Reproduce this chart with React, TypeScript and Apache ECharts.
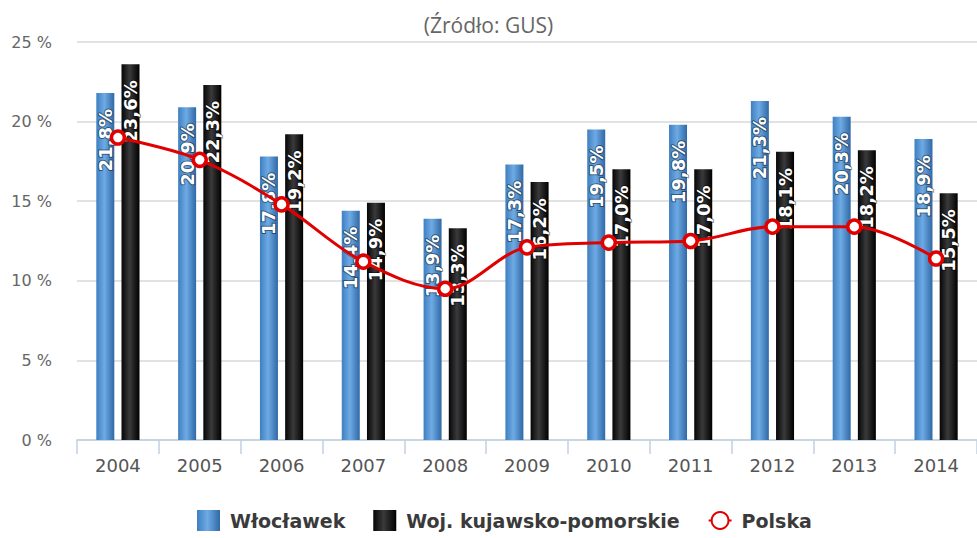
import React, { useEffect, useRef } from "react";
import * as echarts from "echarts";

const years = ["2004", "2005", "2006", "2007", "2008", "2009", "2010", "2011", "2012", "2013", "2014"];
const wloclawek = [21.8, 20.9, 17.8, 14.4, 13.9, 17.3, 19.5, 19.8, 21.3, 20.3, 18.9];
const kujawsko = [23.6, 22.3, 19.2, 14.9, 13.3, 16.2, 17.0, 17.0, 18.1, 18.2, 15.5];
const polska = [19.0, 17.6, 14.8, 11.2, 9.5, 12.1, 12.4, 12.5, 13.4, 13.4, 11.4];

const FONT = "DejaVu Sans";

const fmt = (v: number) => v.toFixed(1).replace(".", ",") + "%";

const barLabel = {
  show: true,
  position: "insideTop" as const,
  distance: 16,
  rotate: 90,
  align: "right" as const,
  verticalAlign: "middle" as const,
  color: "#fff",
  fontFamily: FONT,
  fontSize: 18,
  fontWeight: "bold" as const,
  textBorderColor: "rgba(0,0,0,0.45)",
  textBorderWidth: 2,
  formatter: (p: any) => fmt(p.value),
};

export default function App() {
  const ref = useRef<HTMLDivElement>(null);
  useEffect(() => {
    const chart = echarts.init(ref.current!, null, { renderer: "svg" });
    chart.setOption({
      animation: false,
      backgroundColor: "#fff",
      title: {
        text: "(Źródło: GUS)",
        left: "center",
        top: 9,
        textStyle: { fontFamily: "Open Sans", fontSize: 21, fontWeight: "normal", color: "#666" },
      },
      legend: {
        bottom: 2,
        left: 192,
        itemWidth: 23,
        itemHeight: 21,
        itemGap: 28,
        textStyle: { fontFamily: FONT, fontSize: 19, fontWeight: "bold", color: "#3a3a3a", padding: [0, 0, 0, 5] },
        data: [
          { name: "Włocławek", icon: "rect" },
          { name: "Woj. kujawsko-pomorskie", icon: "rect" },
          { name: "Polska" },
        ],
      },
      grid: { left: 77, right: 0, top: 42, bottom: 98 },
      xAxis: {
        type: "category",
        data: years,
        axisLine: { lineStyle: { color: "#C0D0E0", width: 1.5 } },
        axisTick: { show: true, length: 14, lineStyle: { color: "#C0D0E0", width: 1.5 } },
        axisLabel: { fontFamily: FONT, fontSize: 18, color: "#555", margin: 16 },
      },
      yAxis: {
        type: "value",
        min: 0,
        max: 25,
        interval: 5,
        axisLabel: { fontFamily: FONT, fontSize: 16, color: "#666", margin: 25, formatter: "{value} %" },
        splitLine: { lineStyle: { color: "#D8D8D8", width: 1.5 } },
        axisLine: { show: false },
        axisTick: { show: false },
      },
      series: [
        {
          name: "Włocławek",
          type: "bar",
          data: wloclawek,
          barWidth: 18,
          barGap: "40%",
          itemStyle: {
            color: new echarts.graphic.LinearGradient(0, 0, 1, 0, [
              { offset: 0, color: "#3f7fc0" },
              { offset: 0.45, color: "#6eaae4" },
              { offset: 1, color: "#2f69a6" },
            ]),
          },
          label: barLabel,
          z: 2,
        },
        {
          name: "Woj. kujawsko-pomorskie",
          type: "bar",
          data: kujawsko,
          barWidth: 18,
          barGap: "40%",
          itemStyle: {
            color: new echarts.graphic.LinearGradient(0, 0, 1, 0, [
              { offset: 0, color: "#050505" },
              { offset: 0.45, color: "#3a3a3c" },
              { offset: 1, color: "#000000" },
            ]),
          },
          label: barLabel,
          z: 2,
        },
        {
          name: "Polska",
          type: "line",
          data: polska,
          smooth: 0.35,
          symbol: "circle",
          symbolSize: 13,
          lineStyle: { color: "#E00000", width: 3 },
          itemStyle: { color: "#fff", borderColor: "#E00000", borderWidth: 3.5 },
          z: 2,
        },
      ],
    });
    return () => chart.dispose();
  }, []);
  return <div ref={ref} style={{ width: 977, height: 538, position: "absolute", left: 0, top: 0 }} />;
}
